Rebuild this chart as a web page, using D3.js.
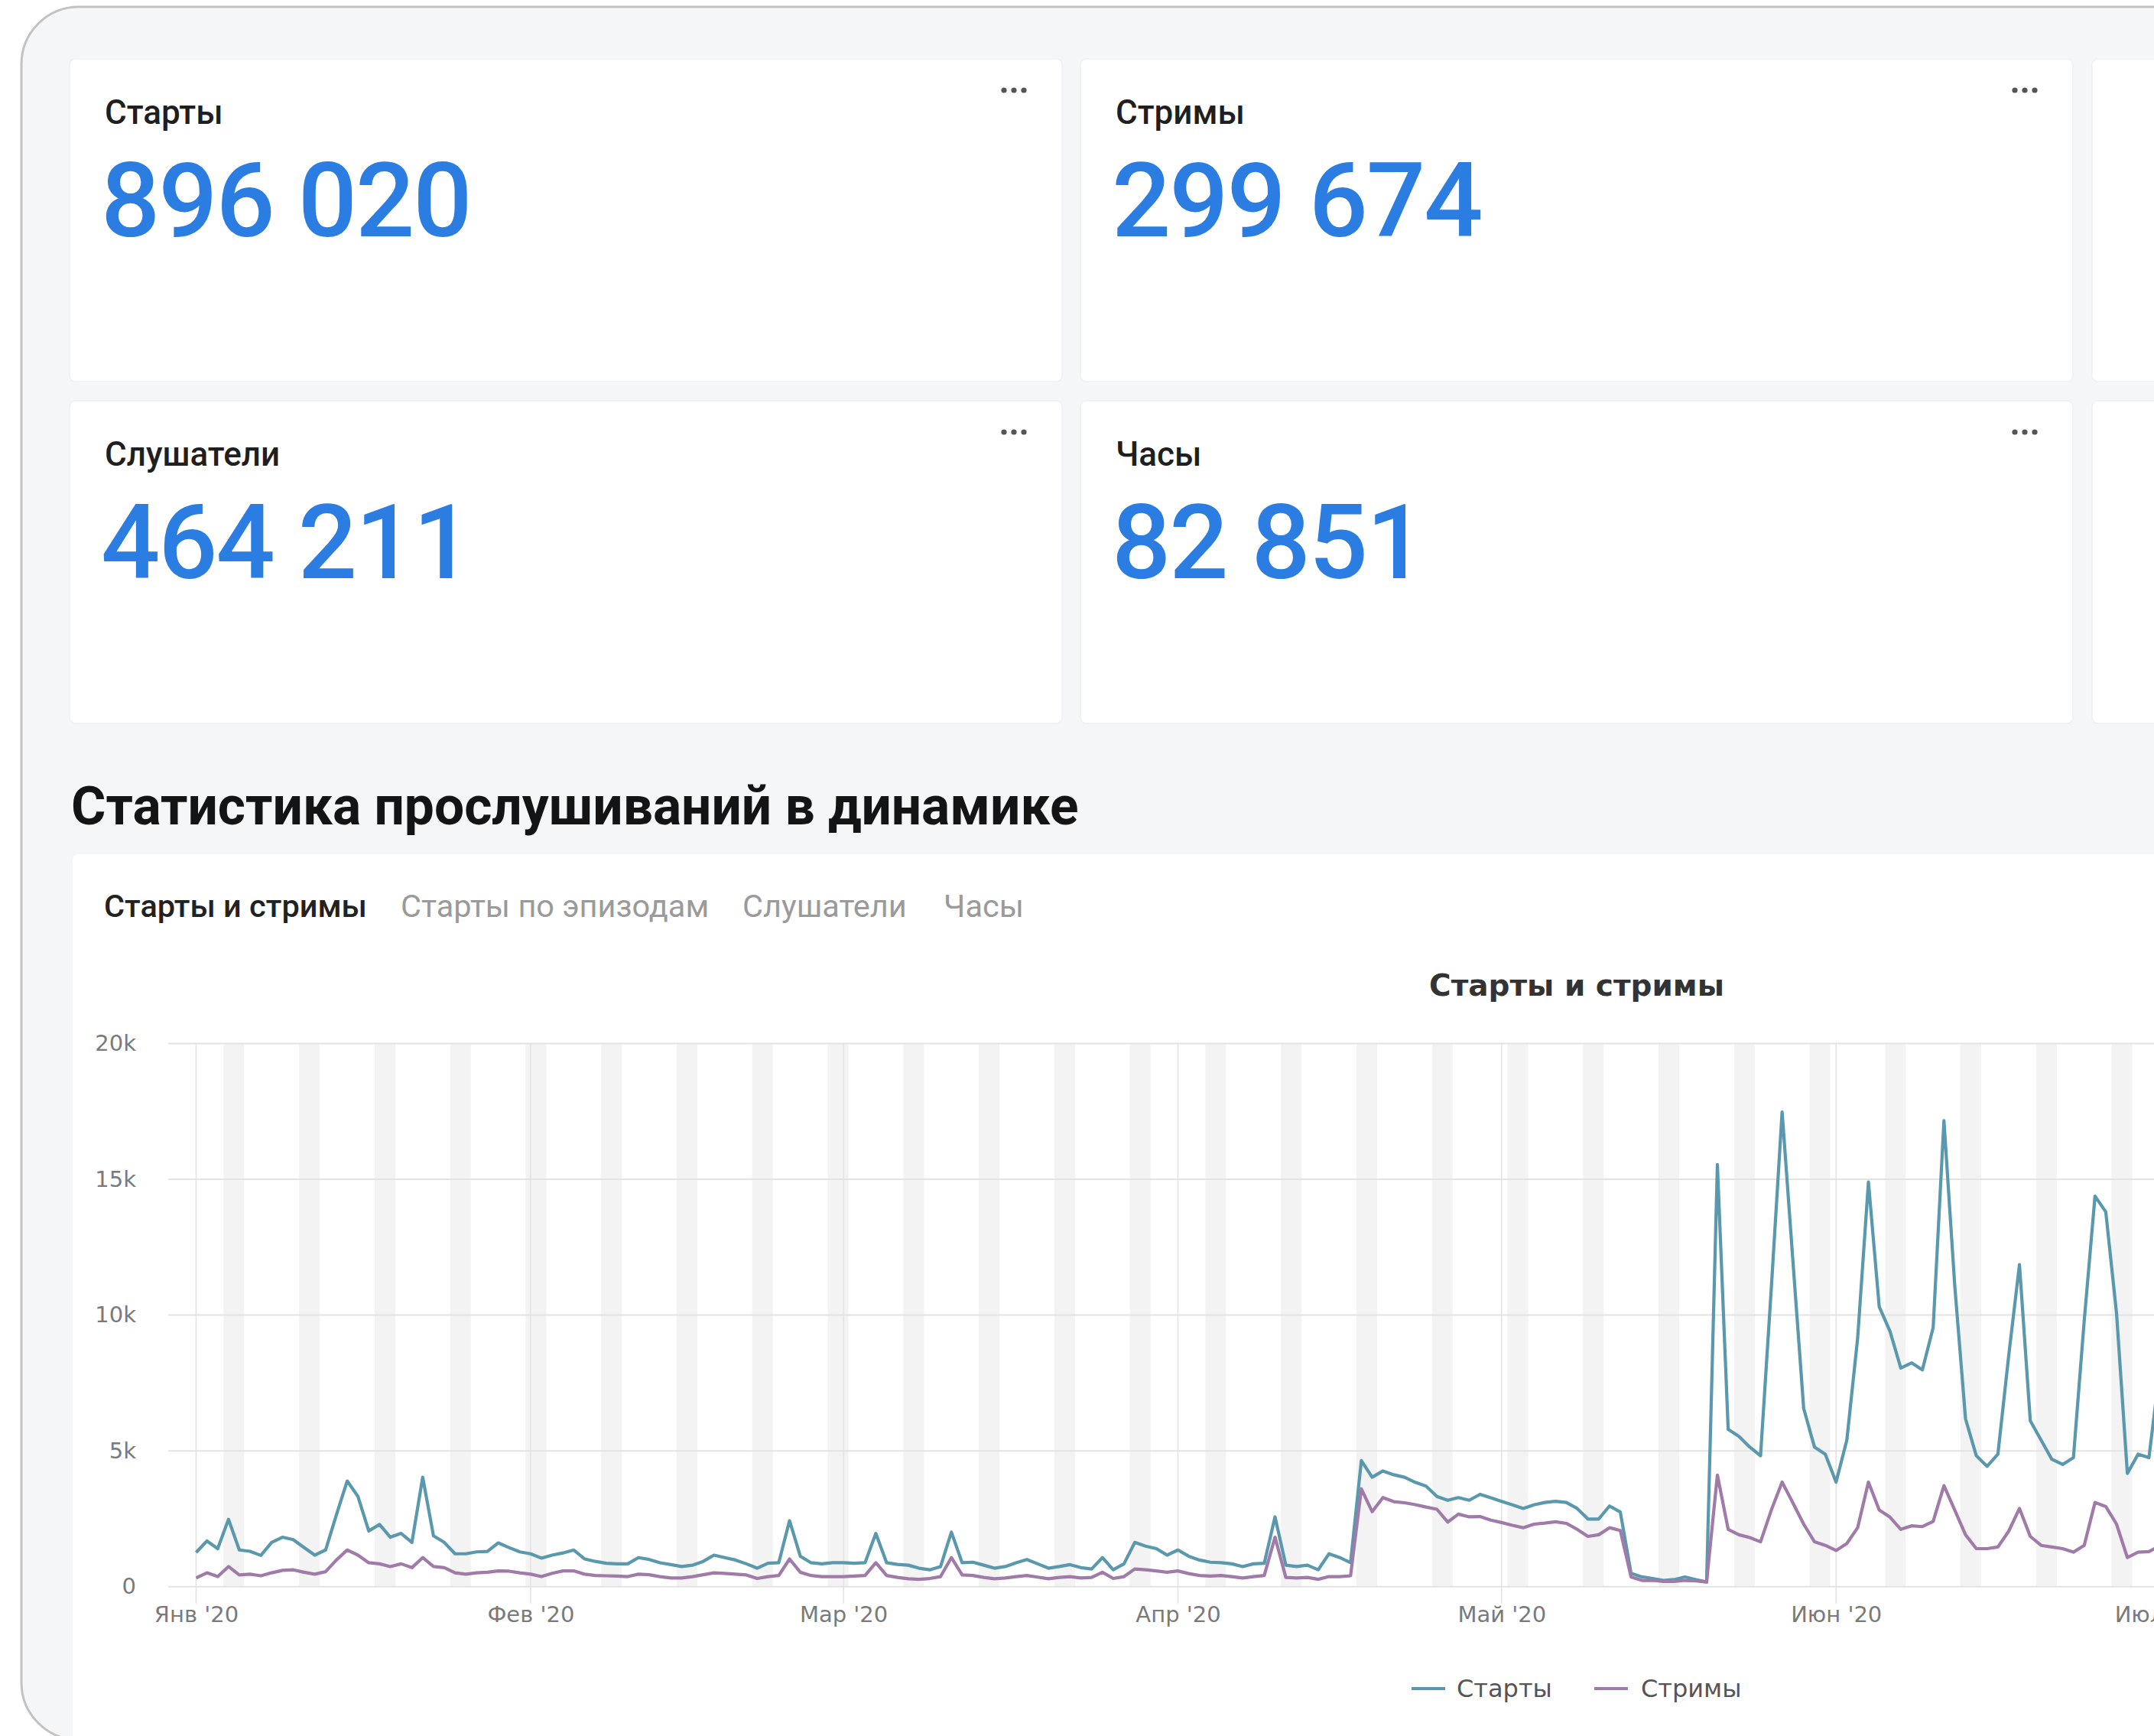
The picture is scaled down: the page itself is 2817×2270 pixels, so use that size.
<!DOCTYPE html>
<html><head><meta charset="utf-8">
<script src="https://cdn.jsdelivr.net/npm/d3@7"></script>
<style>
html,body{margin:0;padding:0;background:#fff;overflow:hidden;}
svg{display:block;}
</style></head>
<body>
<svg id="c" width="2817" height="2270"></svg>
<script>
// ---------- DATA ----------
const kpiLabels = ["Старты", "Стримы", "Слушатели", "Часы"];
const kpiValues = ["896 020", "299 674", "464 211", "82 851"];
const sectionTitle = "Статистика прослушиваний в динамике";
const tabs = ["Старты и стримы", "Старты по эпизодам", "Слушатели", "Часы"];
const chartTitle = "Старты и стримы";
const seriesNames = ["Старты", "Стримы"];
const startDate = "2020-01-01";
const yTicks = [0, 5000, 10000, 15000, 20000];
const yTickLabels = ["0", "5k", "10k", "15k", "20k"];
const monthTicks = ["2020-01-01","2020-02-01","2020-03-01","2020-04-01","2020-05-01","2020-06-01","2020-07-01"];
const monthLabels = ["Янв '20","Фев '20","Мар '20","Апр '20","Май '20","Июн '20","Июл '20"];
// daily values from 1 Jan 2020
const starts = [
1260,1680,1400,2480,1350,1300,1150,1630,1820,1730,1440,1160,1350,2640,3890,3320,2050,2290,1820,1960,
1630,4030,1870,1630,1210,1210,1280,1300,1610,1440,1280,1210,1050,1160,1240,1350,1020,930,860,840,
840,1070,1000,880,810,740,790,930,1160,1070,980,840,680,860,880,2430,1120,880,840,880,
880,860,880,1960,880,820,790,680,620,740,2010,880,900,790,680,740,880,1000,840,680,
740,810,700,650,1070,620,840,1630,1490,1400,1160,1350,1120,980,900,880,840,740,840,860,
2570,790,740,790,620,1210,1070,880,4640,4030,4260,4120,4030,3840,3700,3320,3180,3280,3180,3400,
3270,3140,3010,2880,3010,3100,3140,3100,2880,2490,2490,2970,2750,490,360,300,230,260,360,260,
170,15540,5790,5530,5140,4820,11000,17480,12000,6560,5140,4880,3850,5400,9150,14900,10310,9400,8050,8240,
7980,9540,17160,11090,6180,4820,4430,4880,8500,11860,6110,5400,4690,4500,4750,9790,14380,13800,10050,4170,
4880,4750,8000];
const streams = [
320,510,370,740,430,460,400,510,600,620,530,460,550,980,1350,1160,880,840,740,840,
700,1070,740,700,510,460,510,530,580,570,510,460,370,490,580,580,460,410,400,390,
370,460,440,370,320,320,370,440,510,490,460,430,300,370,410,1020,530,410,370,370,
370,390,410,880,410,340,290,270,300,370,1070,430,410,340,290,320,370,410,350,290,
340,370,320,340,530,300,370,650,620,580,530,580,480,410,390,410,370,320,370,410,
1820,340,320,340,270,370,370,400,3600,2760,3280,3130,3090,3020,2930,2850,2380,2670,2570,2580,
2450,2360,2260,2170,2300,2340,2390,2330,2110,1850,1910,2170,2070,360,230,230,190,190,230,210,
170,4110,2110,1910,1810,1650,2820,3850,3080,2300,1650,1520,1330,1590,2170,3850,2820,2560,2110,2240,
2210,2400,3720,2820,1910,1400,1400,1460,2040,2880,1850,1520,1460,1400,1270,1520,3100,2950,2300,1070,
1270,1290,1500];

// ---------- LAYOUT ----------
const svg = d3.select("#c");
const parse = d3.utcParse("%Y-%m-%d");
const d0 = parse(startDate);
const dates = starts.map((_, i) => d3.utcDay.offset(d0, i));

// outer frame background
svg.append("rect").attr("x", 28).attr("y", 9).attr("width", 2950).attr("height", 2266)
  .attr("rx", 75).attr("fill", "#f5f6f8").attr("stroke", "none");

// KPI cards
const cardX = [91, 1413, 2736], cardW = 1298, cardY = [77, 524], cardH = 422;
cardY.forEach((cy, r) => {
  cardX.forEach((cx, c) => {
    svg.append("rect").attr("x", cx).attr("y", cy).attr("width", cardW).attr("height", cardH)
      .attr("rx", 8).attr("fill", "#fff").attr("stroke", "#eef0f2").attr("stroke-width", 1.5);
    if (c < 2) {
      const k = r * 2 + c;
      svg.append("text").attr("x", cx + 46).attr("y", cy + 85)
        .attr("font-family", "Roboto").attr("font-weight", 500).attr("font-size", 44)
        .attr("fill", "#1f1f1f").text(kpiLabels[k]);
      svg.append("text").attr("x", cx + 41).attr("y", cy + 232)
        .attr("font-family", "Roboto").attr("font-weight", 500).attr("font-size", 136)
        .attr("letter-spacing", -2).attr("fill", "#2b7de2").text(kpiValues[k]);
      [-13, 0, 13].forEach(dx => svg.append("circle").attr("cx", cx + cardW - 63 + dx)
        .attr("cy", cy + 41).attr("r", 3.6).attr("fill", "#555"));
    }
  });
});

// section title
svg.append("text").attr("x", 93).attr("y", 1078)
  .attr("font-family", "Roboto").attr("font-weight", 700).attr("font-size", 69.5)
  .attr("fill", "#141414").text(sectionTitle);

// chart card
svg.append("rect").attr("x", 95).attr("y", 1117).attr("width", 2900).attr("height", 1300)
  .attr("rx", 8).attr("fill", "#fff");

// tabs
const tabX = [136, 524, 971, 1234];
tabs.forEach((t, i) => {
  svg.append("text").attr("x", tabX[i]).attr("y", 1199)
    .attr("font-family", "Roboto").attr("font-weight", i === 0 ? 500 : 400).attr("font-size", 41.5)
    .attr("fill", i === 0 ? "#222" : "#9a9a9a").text(t);
});

// chart title
svg.append("text").attr("x", 2062).attr("y", 1302).attr("text-anchor", "middle")
  .attr("font-family", "DejaVu Sans").attr("font-weight", "bold").attr("font-size", 39)
  .attr("fill", "#333").text(chartTitle);

// scales
const x = d3.scaleUtc().domain([parse(monthTicks[0]), parse(monthTicks[6])]).range([256.5, 2824.5]);
const y = d3.scaleLinear().domain([0, 20000]).range([2074.7, 1364.5]);
const plotLeft = 220;

// weekend bands
const g = svg.append("g");
dates.concat([d3.utcDay.offset(dates[dates.length - 1], 1)]).forEach(d => {
  if (d.getUTCDay() === 6) {
    const a = x(d3.utcHour.offset(d, -11)), b = x(d3.utcHour.offset(d, 35));
    g.append("rect").attr("x", a).attr("y", y(20000)).attr("width", b - a)
      .attr("height", y(0) - y(20000)).attr("fill", "#f3f3f3");
  }
});

// horizontal grid
svg.append("g").selectAll("line").data(yTicks).join("line")
  .attr("x1", plotLeft).attr("x2", 2900).attr("y1", d => y(d)).attr("y2", d => y(d))
  .attr("stroke", "#e3e3e3").attr("stroke-width", 2);

// month lines
svg.append("g").selectAll("line").data(monthTicks).join("line")
  .attr("x1", d => x(parse(d))).attr("x2", d => x(parse(d)))
  .attr("y1", y(20000)).attr("y2", y(0) + 22)
  .attr("stroke", "#e2e2e2").attr("stroke-width", 1.5);

// y axis
const yAxis = d3.axisLeft(y).tickValues(yTicks).tickSize(0).tickPadding(0)
  .tickFormat((d, i) => yTickLabels[i]);
const ya = svg.append("g").attr("transform", "translate(178,0)").call(yAxis);
ya.select(".domain").remove();
ya.selectAll("text").attr("font-family", "DejaVu Sans").attr("font-size", 29).attr("fill", "#7a7a7a");

// x axis
const xAxis = d3.axisBottom(x).tickValues(monthTicks.map(parse)).tickSize(0).tickPadding(0)
  .tickFormat((d, i) => monthLabels[i]);
const xa = svg.append("g").attr("transform", "translate(0,2100)").call(xAxis);
xa.select(".domain").remove();
xa.selectAll("text").attr("font-family", "DejaVu Sans").attr("font-size", 29).attr("fill", "#7a7a7a");

// lines
const colors = ["#5a98ad", "#a07aa8"];
const line = d3.line().x((d, i) => x(dates[i])).y(d => y(d));
[starts, streams].forEach((s, k) => {
  svg.append("path").datum(s).attr("d", line).attr("fill", "none")
    .attr("stroke", colors[k]).attr("stroke-width", 4.2).attr("stroke-linejoin", "round");
});

// legend
const legX = [1846, 2085], legTextX = [1905, 2146];
seriesNames.forEach((n, k) => {
  svg.append("line").attr("x1", legX[k]).attr("x2", legX[k] + 44).attr("y1", 2208).attr("y2", 2208)
    .attr("stroke", colors[k]).attr("stroke-width", 4);
  svg.append("text").attr("x", legTextX[k]).attr("y", 2219)
    .attr("font-family", "DejaVu Sans").attr("font-size", 32).attr("fill", "#555").text(n);
});

// white outside the rounded frame, then the frame border
svg.append("path")
  .attr("d", "M0,0 H2817 V2270 H0 Z M28,84 A75,75 0 0 1 103,9 H2978 V2275 H103 A75,75 0 0 1 28,2200 Z")
  .attr("fill", "#fff").attr("fill-rule", "evenodd");
svg.append("rect").attr("x", 28).attr("y", 9).attr("width", 2950).attr("height", 2266)
  .attr("rx", 75).attr("fill", "none").attr("stroke", "#c2c2c2").attr("stroke-width", 3);
</script>
</body></html>
